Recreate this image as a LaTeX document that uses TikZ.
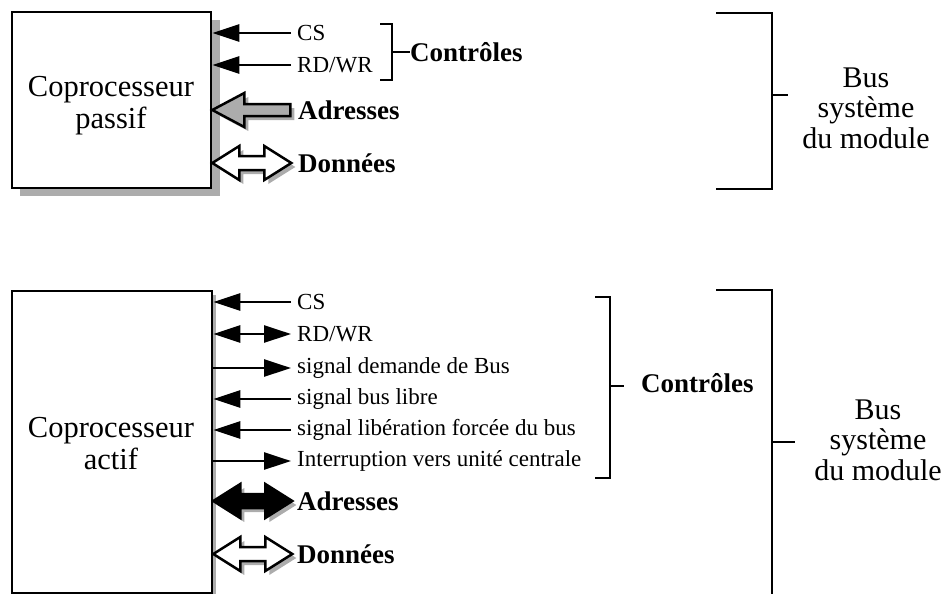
\documentclass[tikz,border=0pt]{standalone}
\usepackage{fontspec}
\setmainfont{Liberation Serif}
\usetikzlibrary{arrows.meta}
\begin{document}
\begin{tikzpicture}[x=1pt,y=-1pt,
  big/.style={font=\fontsize{30.5}{32}\selectfont, align=center, inner sep=0pt},
  small/.style={font=\fontsize{23}{25}\selectfont, anchor=west, inner sep=0pt},
  boldlab/.style={font=\fontsize{27}{29}\selectfont\bfseries, anchor=west, inner sep=0pt},
  sig/.style={line width=2.8pt, -{Triangle[length=27pt,width=17pt]}},
  sigboth/.style={line width=2.8pt, {Triangle[length=27pt,width=17pt]}-{Triangle[length=27pt,width=17pt]}},
  brk/.style={line width=2.8pt},
  procbox/.style={draw, line width=2.6pt, fill=white, inner sep=0pt},
  fat/.style={line width=2.5pt, line join=miter},
]
\useasboundingbox (0,0) rectangle (950,594);
\def\leftarr{(0,0) -- (32,-17) -- (32,-6) -- (78,-6) -- (78,6) -- (32,6) -- (32,17) -- cycle}
\def\bothcarr{(0,0) -- (27,-17) -- (27,-7) -- (52,-7) -- (52,-17) -- (79,0) -- (52,17) -- (52,7) -- (27,7) -- (27,17) -- cycle}

% ===== Top: passive coprocessor =====
\fill[gray!65] (20,20) rectangle (220,196);
\node[procbox, minimum width=199pt, minimum height=176pt] (pas) at (111.5,100) {};
\node[big] (pastxt) at (111,106) {Coprocesseur\\passif};

\node[small] (cs1) at (297,33) {CS};
\node[small] (rw1) at (297,65) {RD/WR};
\draw[sig] ([xshift=-6pt]cs1.west) -- (cs1.west -| pas.east);
\draw[sig] ([xshift=-6pt]rw1.west) -- (rw1.west -| pas.east);

\draw[brk] (380,24) -- (392,24) -- (392,80) -- (380,80);
\node[boldlab] (ctl1) at (410,52) {Contrôles};
\draw[brk] (392,52) -- (ctl1.west);

\node[boldlab] (adr1) at (298,110) {Adresses};
\coordinate (adr1tip) at (pas.east |- adr1.west);
\begin{scope}[shift={([shift={(4,4)}]adr1tip)}]
  \fill[gray!65] \leftarr;
\end{scope}
\begin{scope}[shift={(adr1tip)}]
  \filldraw[fat, fill=gray!65] \leftarr;
\end{scope}

\node[boldlab] (don1) at (298,163) {Données};
\coordinate (don1tip) at (pas.east |- don1.west);
\begin{scope}[shift={([shift={(4,4)}]don1tip)}]
  \fill[gray!65] \bothcarr;
\end{scope}
\begin{scope}[shift={(don1tip)}]
  \filldraw[fat, fill=white] \bothcarr;
\end{scope}

\draw[brk] (716,13) -- (772,13) -- (772,189) -- (716,189);
\node[big, font=\fontsize{30}{30.5}\selectfont] (bus1) at (866,108) {Bus\\système\\du module};
\draw[brk] (772,95) -- (788,95);

% ===== Bottom: active coprocessor =====
\fill[gray!65] (15,295) rectangle (216,597);
\node[procbox, minimum width=200pt, minimum height=302pt] (act) at (112,442) {};
\node[big] (acttxt) at (111,444) {Coprocesseur\\actif};

\node[small] (cs2) at (297,302) {CS};
\node[small] (rw2) at (297,334) {RD/WR};
\node[small] (dem) at (297,368) {signal demande de Bus};
\node[small] (lib) at (297,399) {signal bus libre};
\node[small] (lbf) at (297,430) {signal libération forcée du bus};
\node[small] (itr) at (297,461) {Interruption vers unité centrale};

\draw[sig] ([xshift=-6pt]cs2.west) -- (cs2.west -| act.east);
\draw[sigboth] ([xshift=-6pt]rw2.west) -- (rw2.west -| act.east);
\draw[sig] (dem.west -| act.east) -- ([xshift=-6pt]dem.west);
\draw[sig] ([xshift=-6pt]lib.west) -- (lib.west -| act.east);
\draw[sig] ([xshift=-6pt]lbf.west) -- (lbf.west -| act.east);
\draw[sig] (itr.west -| act.east) -- ([xshift=-6pt]itr.west);

\node[boldlab] (adr2) at (297,501) {Adresses};
\coordinate (adr2tip) at (act.east |- adr2.west);
\begin{scope}[shift={([shift={(4,4)}]adr2tip)}]
  \fill[gray!65] \bothcarr;
\end{scope}
\begin{scope}[shift={(adr2tip)}]
  \filldraw[fat, fill=black] \bothcarr;
\end{scope}

\node[boldlab] (don2) at (297,554) {Données};
\coordinate (don2tip) at (act.east |- don2.west);
\begin{scope}[shift={([shift={(4,4)}]don2tip)}]
  \fill[gray!65] \bothcarr;
\end{scope}
\begin{scope}[shift={(don2tip)}]
  \filldraw[fat, fill=white] \bothcarr;
\end{scope}

\draw[brk] (595,297) -- (610,297) -- (610,478) -- (595,478);
\node[boldlab] (ctl2) at (641,383) {Contrôles};
\draw[brk] (610,386) -- (624,386);

\draw[brk] (716,290) -- (772,290) -- (772,594);
\node[big, font=\fontsize{30}{30.5}\selectfont] (bus2) at (878,440) {Bus\\système\\du module};
\draw[brk] (772,442) -- (795,442);
\end{tikzpicture}
\end{document}
